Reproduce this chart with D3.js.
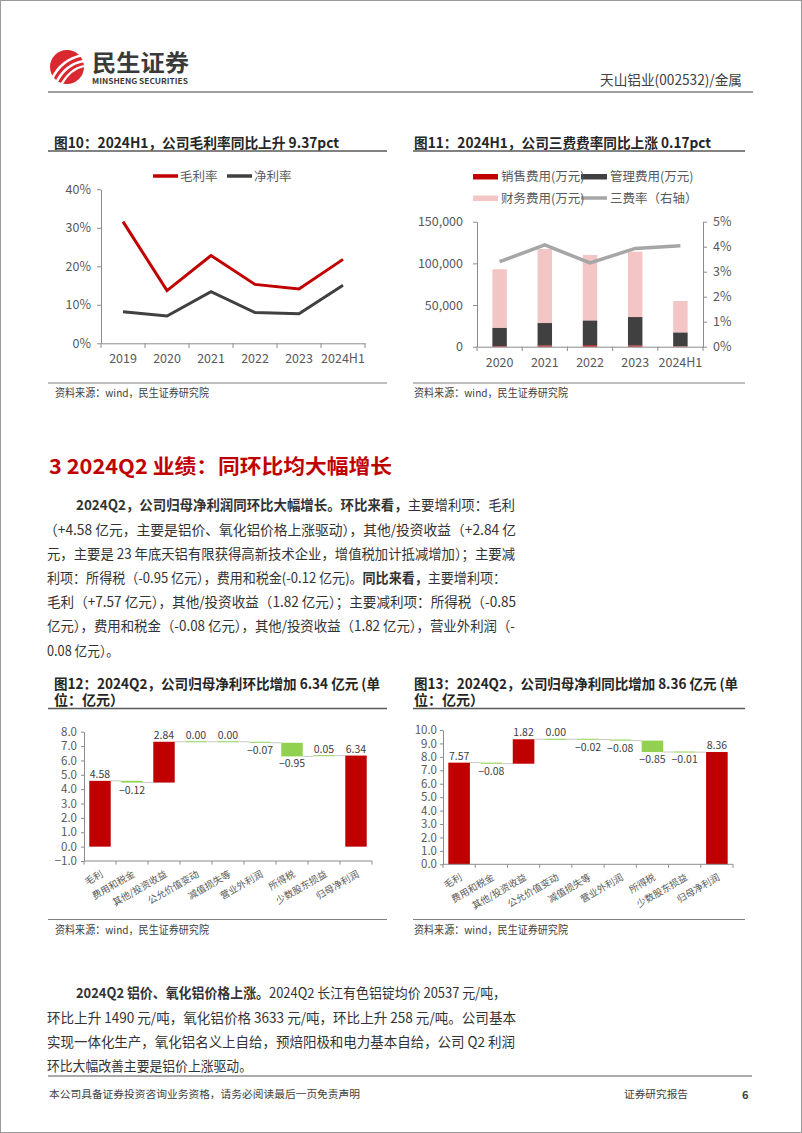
<!DOCTYPE html>
<html><head><meta charset="utf-8">
<script src="https://cdn.jsdelivr.net/npm/d3@7"></script>
<style>body{margin:0;background:#fff}svg{display:block}</style>
</head><body>
<svg id="page" width="802" height="1133"></svg>
<script>
// ---------- DATA ----------
const years10 = ["2019","2020","2021","2022","2023","2024H1"];
const grossMargin = [0.316,0.137,0.228,0.153,0.141,0.218];
const netMargin   = [0.082,0.071,0.134,0.080,0.077,0.151];
const yTicks10 = [0,0.1,0.2,0.3,0.4];

const years11 = ["2020","2021","2022","2023","2024H1"];
const salesExp = [800,1500,1800,1500,500];
const mgmtExp  = [22000,26900,29800,34100,16700];
const finExp   = [70100,88800,78400,78400,37600];
const feeRate  = [0.034,0.0407,0.0335,0.0393,0.0404];
const yTicks11L = [0,50000,100000,150000];
const yTicks11R = [0,0.01,0.02,0.03,0.04,0.05];

const wfCats = ["毛利","费用和税金","其他/投资收益","公允价值变动","减值损失等","营业外利润","所得税","少数股东损益","归母净利润"];
const wf12 = [4.58,-0.12,2.84,0.00,0.00,-0.07,-0.95,0.05,6.34];
const wf13 = [7.57,-0.08,1.82,0.00,-0.02,-0.08,-0.85,-0.01,8.36];
const yTicks12 = [-1,0,1,2,3,4,5,6,7,8];
const yTicks13 = [0,1,2,3,4,5,6,7,8,9,10];

// ---------- SETUP ----------
const F = "'Noto Sans CJK SC','Noto Sans',sans-serif";
const svg = d3.select("#page").attr("font-family", F);
const RED = "#C00000", DARK = "#404040", PINK = "#F3C5C5", GRAY = "#A6A6A6", GREEN = "#92D050";
const AX = "#8c8c8c", TXT = "#595959";

svg.append("rect").attr("x",0.5).attr("y",0.5).attr("width",801).attr("height",1132)
  .attr("fill","#fff").attr("stroke","#9a9a9a").attr("stroke-width",1);

function txt(x,y,s,size,opt={}){
  const t = svg.append("text").attr("x",x).attr("y",y).attr("font-size",size)
    .attr("fill",opt.fill||"#333").attr("font-weight",opt.bold?"bold":"normal").text(s);
  if(opt.anchor) t.attr("text-anchor",opt.anchor);
  if(opt.w) t.attr("textLength",opt.w).attr("lengthAdjust","spacingAndGlyphs");
  return t;
}
function rich(x,y,parts,size,w,fill){
  const t = svg.append("text").attr("x",x).attr("y",y).attr("font-size",size).attr("fill",fill||"#333");
  parts.forEach(p=>t.append("tspan").attr("font-weight",p[1]?"bold":"normal").text(p[0]));
  if(w) t.attr("textLength",w).attr("lengthAdjust","spacingAndGlyphs");
  return t;
}
function hline(x1,x2,y,c,w){svg.append("line").attr("x1",x1).attr("x2",x2).attr("y1",y).attr("y2",y).attr("stroke",c).attr("stroke-width",w);}

// ---------- HEADER ----------
svg.append("circle").attr("cx",67).attr("cy",67).attr("r",17).attr("fill","#D9282F");
[["M52,79 C58,66 68,58 83,55",2.6],["M56,83 C62,71 71,63 84,61",2.6],["M61,85 C66,76 74,68 84,66",2.2]]
  .forEach(p=>svg.append("path").attr("d",p[0]).attr("fill","none").attr("stroke","#fff").attr("stroke-width",p[1]));
txt(92,71,"民生证券",22.5,{bold:true,fill:"#3a3a3a",w:97});
txt(92,84,"MINSHENG SECURITIES",7.4,{bold:true,fill:"#3a3a3a",w:96});
txt(742,85,"天山铝业(002532)/金属",14,{fill:"#404040",anchor:"end",w:142});
hline(48,753,92,"#7f7f7f",1.6);

// ---------- CHART TITLES / FRAMES ----------
txt(54,148,"图10：2024H1，公司毛利率同比上升 9.37pct",14,{bold:true,fill:"#262626",w:285});
hline(48,387,151,"#595959",1.5);
txt(414,148,"图11：2024H1，公司三费费率同比上涨 0.17pct",14,{bold:true,fill:"#262626",w:297});
hline(413,745,151,"#595959",1.5);
hline(48,387,383,"#7f7f7f",1);
hline(413,745,383,"#7f7f7f",1);
txt(55,396.5,"资料来源：wind，民生证券研究院",11,{fill:"#404040",w:154});
txt(414,396.5,"资料来源：wind，民生证券研究院",11,{fill:"#404040",w:154});

// ---------- CHART 10 (line) ----------
{
  const x = d3.scaleBand().domain(years10).range([101,365]);
  const y = d3.scaleLinear().domain([0,0.4]).range([343.3,189.3]);
  const g = svg.append("g");
  const ya = g.append("g").attr("transform","translate(101,0)")
    .call(d3.axisLeft(y).tickValues(yTicks10).tickFormat(d3.format(".0%")).tickSize(4).tickSizeOuter(0).tickPadding(6));
  const xa = g.append("g").attr("transform","translate(0,343.3)")
    .call(d3.axisBottom(x).tickSize(0).tickSizeOuter(0).tickPadding(10.5));
  const bounds = years10.map(d=>x(d)).concat([x.range()[1]]);
  g.selectAll(".xt").data(bounds).join("line").attr("x1",d=>d).attr("x2",d=>d)
    .attr("y1",343.3).attr("y2",348).attr("stroke",AX);
  [ya,xa].forEach(a=>{a.selectAll("path,line").attr("stroke",AX);a.selectAll("text").attr("fill",TXT).attr("font-size",12.5).attr("font-family",F);});
  const line = d3.line().x((d,i)=>x(years10[i])+x.bandwidth()/2).y(d=>y(d));
  g.append("path").attr("d",line(netMargin)).attr("fill","none").attr("stroke",DARK).attr("stroke-width",3);
  g.append("path").attr("d",line(grossMargin)).attr("fill","none").attr("stroke",RED).attr("stroke-width",3);
  g.append("line").attr("x1",153).attr("x2",178).attr("y1",176).attr("y2",176).attr("stroke",RED).attr("stroke-width",3.5);
  txt(180,180.5,"毛利率",12.5,{fill:TXT});
  g.append("line").attr("x1",227).attr("x2",252).attr("y1",176).attr("y2",176).attr("stroke",DARK).attr("stroke-width",3.5);
  txt(254,180.5,"净利率",12.5,{fill:TXT});
}

// ---------- CHART 11 (stacked bars + line) ----------
{
  const rows = years11.map((yr,i)=>({year:yr,sales:salesExp[i],mgmt:mgmtExp[i],fin:finExp[i]}));
  const stack = d3.stack().keys(["sales","mgmt","fin"])(rows);
  const colors = {sales:RED,mgmt:DARK,fin:PINK};
  const x = d3.scaleBand().domain(years11).range([477,703]);
  const yL = d3.scaleLinear().domain([0,150000]).range([346.7,221.7]);
  const yR = d3.scaleLinear().domain([0,0.05]).range([346.7,221.7]);
  const g = svg.append("g");
  const bw = x.step()*0.32;
  stack.forEach(s=>{
    g.selectAll(null).data(s).join("rect")
      .attr("x",d=>x(d.data.year)+x.bandwidth()/2-bw/2).attr("width",bw)
      .attr("y",d=>yL(d[1])).attr("height",d=>yL(d[0])-yL(d[1]))
      .attr("fill",colors[s.key]);
  });
  const la = g.append("g").attr("transform","translate(477,0)")
    .call(d3.axisLeft(yL).tickValues(yTicks11L).tickFormat(d3.format(",")).tickSize(4).tickSizeOuter(0).tickPadding(10));
  const ra = g.append("g").attr("transform","translate(703,0)")
    .call(d3.axisRight(yR).tickValues(yTicks11R).tickFormat(d3.format(".0%")).tickSize(4).tickSizeOuter(0).tickPadding(6));
  const xa = g.append("g").attr("transform","translate(0,346.7)")
    .call(d3.axisBottom(x).tickSize(0).tickSizeOuter(0).tickPadding(11));
  const bounds = years11.map(d=>x(d)).concat([x.range()[1]]);
  g.selectAll(".xt").data(bounds).join("line").attr("x1",d=>d).attr("x2",d=>d)
    .attr("y1",346.7).attr("y2",351).attr("stroke",AX);
  [la,ra,xa].forEach(a=>{a.selectAll("path,line").attr("stroke",AX);a.selectAll("text").attr("fill",TXT).attr("font-size",12.5).attr("font-family",F);});
  const line = d3.line().x((d,i)=>x(years11[i])+x.bandwidth()/2).y(d=>yR(d));
  g.append("path").attr("d",line(feeRate)).attr("fill","none").attr("stroke",GRAY).attr("stroke-width",3.5);
  g.append("rect").attr("x",473).attr("y",174).attr("width",25).attr("height",5.5).attr("fill",RED);
  txt(501,181,"销售费用(万元)",12.5,{fill:TXT});
  g.append("rect").attr("x",581).attr("y",174).attr("width",26).attr("height",5.5).attr("fill",DARK);
  txt(610,181,"管理费用(万元)",12.5,{fill:TXT});
  g.append("rect").attr("x",473).attr("y",195.5).attr("width",25).attr("height",5.5).attr("fill",PINK);
  txt(501,202.5,"财务费用(万元)",12.5,{fill:TXT});
  g.append("line").attr("x1",581).attr("x2",607).attr("y1",198).attr("y2",198).attr("stroke",GRAY).attr("stroke-width",3.5);
  txt(610,202.5,"三费率（右轴）",12.5,{fill:TXT});
}

// ---------- SECTION TEXT ----------
txt(49,473.5,"3 2024Q2 业绩：同环比均大幅增长",20.5,{bold:true,fill:RED,w:343});
const BS = 14, BC = "#333";
rich(76,510.3,[["2024Q2，公司归母净利润同环比大幅增长。环比来看，",1],["主要增利项：毛利",0]],BS,439,BC);
rich(44,534.5,[["（+4.58 亿元，主要是铝价、氧化铝价格上涨驱动），其他/投资收益（+2.84 亿",0]],BS,472,BC);
rich(47,558.7,[["元，主要是 23 年底天铝有限获得高新技术企业，增值税加计抵减增加）；主要减",0]],BS,468,BC);
rich(47,582.9,[["利项：所得税（-0.95 亿元），费用和税金(-0.12 亿元)。",0],["同比来看，",1],["主要增利项：",0]],BS,459,BC);
rich(47,607.1,[["毛利（+7.57 亿元），其他/投资收益（1.82 亿元）；主要减利项：所得税（-0.85",0]],BS,469,BC);
rich(47,631.3,[["亿元），费用和税金（-0.08 亿元），其他/投资收益（1.82 亿元），营业外利润（-",0]],BS,468,BC);
rich(47,655.5,[["0.08 亿元）。",0]],BS,72,BC);

// ---------- CHART 12 / 13 frames ----------
txt(54,689,"图12：2024Q2，公司归母净利环比增加 6.34 亿元 (单",14,{bold:true,fill:"#262626",w:326});
txt(54,705,"位：亿元）",14,{bold:true,fill:"#262626"});
hline(48,387,708.5,"#595959",1.5);
txt(414,689,"图13：2024Q2，公司归母净利同比增加 8.36 亿元 (单",14,{bold:true,fill:"#262626",w:324});
txt(414,705,"位：亿元）",14,{bold:true,fill:"#262626"});
hline(413,745,708.5,"#595959",1.5);
hline(48,387,919.5,"#7f7f7f",1);
hline(413,745,919.5,"#7f7f7f",1);
txt(55,934,"资料来源：wind，民生证券研究院",11,{fill:"#404040",w:154});
txt(414,934,"资料来源：wind，民生证券研究院",11,{fill:"#404040",w:154});

function waterfall(vals, o){
  const x = d3.scaleBand().domain(wfCats).range([o.x0,o.x1]);
  const y = d3.scaleLinear().domain(o.dom).range([o.yb,o.yt]);
  const g = svg.append("g");
  let cum = 0;
  const bars = vals.map((v,i)=>{
    const total = (i===0 || i===vals.length-1);
    let a,b;
    if(total){a=0;b=v;}else{a=cum;b=cum+v;}
    cum=b;
    return {cat:wfCats[i],v,a,b,total};
  });
  const bw = x.step()*0.67;
  const cx = d=>x(d)+x.bandwidth()/2;
  bars.slice(0,-1).forEach((d,i)=>{
    g.append("line").attr("x1",cx(d.cat)+bw/2).attr("x2",cx(bars[i+1].cat)-bw/2)
      .attr("y1",y(d.b)).attr("y2",y(d.b)).attr("stroke","#c8c8c8").attr("stroke-width",1);
  });
  g.selectAll(null).data(bars).join("rect")
    .attr("x",d=>cx(d.cat)-bw/2).attr("width",bw)
    .attr("y",d=>Math.min(y(d.a),y(d.b))-(Math.abs(y(d.a)-y(d.b))<1?0.5:0))
    .attr("height",d=>Math.max(1,Math.abs(y(d.a)-y(d.b))))
    .attr("fill",d=>(d.total||d.v>=0.5)?RED:GREEN);
  g.selectAll(null).data(bars).join("text")
    .attr("x",d=>cx(d.cat)).attr("text-anchor","middle")
    .attr("y",d=>d.v>=0?y(Math.max(d.a,d.b))-3:y(Math.min(d.a,d.b))+11)
    .attr("font-size",10.5).attr("fill",DARK).text(d=>d3.format(".2f")(d.v));
  const ya = g.append("g").attr("transform",`translate(${o.x0},0)`)
    .call(d3.axisLeft(y).tickValues(o.ticks).tickFormat(d3.format(".1f")).tickSize(3).tickSizeOuter(0).tickPadding(o.pad));
  ya.selectAll("path,line").attr("stroke",AX);
  ya.selectAll("text").attr("fill",TXT).attr("font-size",11.5).attr("font-family",F);
  g.append("line").attr("x1",o.x0).attr("x2",o.x1).attr("y1",o.yb).attr("y2",o.yb).attr("stroke",AX);
  const bounds = wfCats.map(d=>x(d)).concat([x.range()[1]]);
  g.selectAll(null).data(bounds).join("line").attr("x1",d=>d).attr("x2",d=>d)
    .attr("y1",o.yb).attr("y2",o.yb+3.5).attr("stroke",AX);
  g.selectAll(null).data(wfCats).join("text")
    .attr("transform",d=>`translate(${cx(d)+2},${o.yb+12}) rotate(-30)`)
    .attr("text-anchor","end").attr("dy","0.35em")
    .attr("font-size",9.5).attr("fill",TXT).text(d=>d);
}
waterfall(wf12,{x0:84,x1:372,yb:861,yt:731.7,dom:[-1,8],ticks:yTicks12,pad:4});
waterfall(wf13,{x0:443,x1:733,yb:864.3,yt:730,dom:[0,10],ticks:yTicks13,pad:3});

// ---------- BOTTOM TEXT ----------
rich(76,998.3,[["2024Q2 铝价、氧化铝价格上涨。",1],["2024Q2 长江有色铝锭均价 20537 元/吨，",0]],BS,430,BC);
rich(47,1022.5,[["环比上升 1490 元/吨，氧化铝价格 3633 元/吨，环比上升 258 元/吨。公司基本",0]],BS,469,BC);
rich(47,1046.7,[["实现一体化生产，氧化铝名义上自给，预焙阳极和电力基本自给，公司 Q2 利润",0]],BS,468,BC);
rich(47,1070.9,[["环比大幅改善主要是铝价上涨驱动。",0]],BS,205,BC);

// ---------- FOOTER ----------
hline(48,752,1076,"#595959",1.2);
txt(49,1098,"本公司具备证券投资咨询业务资格，请务必阅读最后一页免责声明",10.5,{fill:"#404040",w:311});
txt(624,1098,"证券研究报告",10.5,{fill:"#404040",w:64});
txt(742,1098.5,"6",11,{bold:true,fill:"#404040"});
</script>
</body></html>
